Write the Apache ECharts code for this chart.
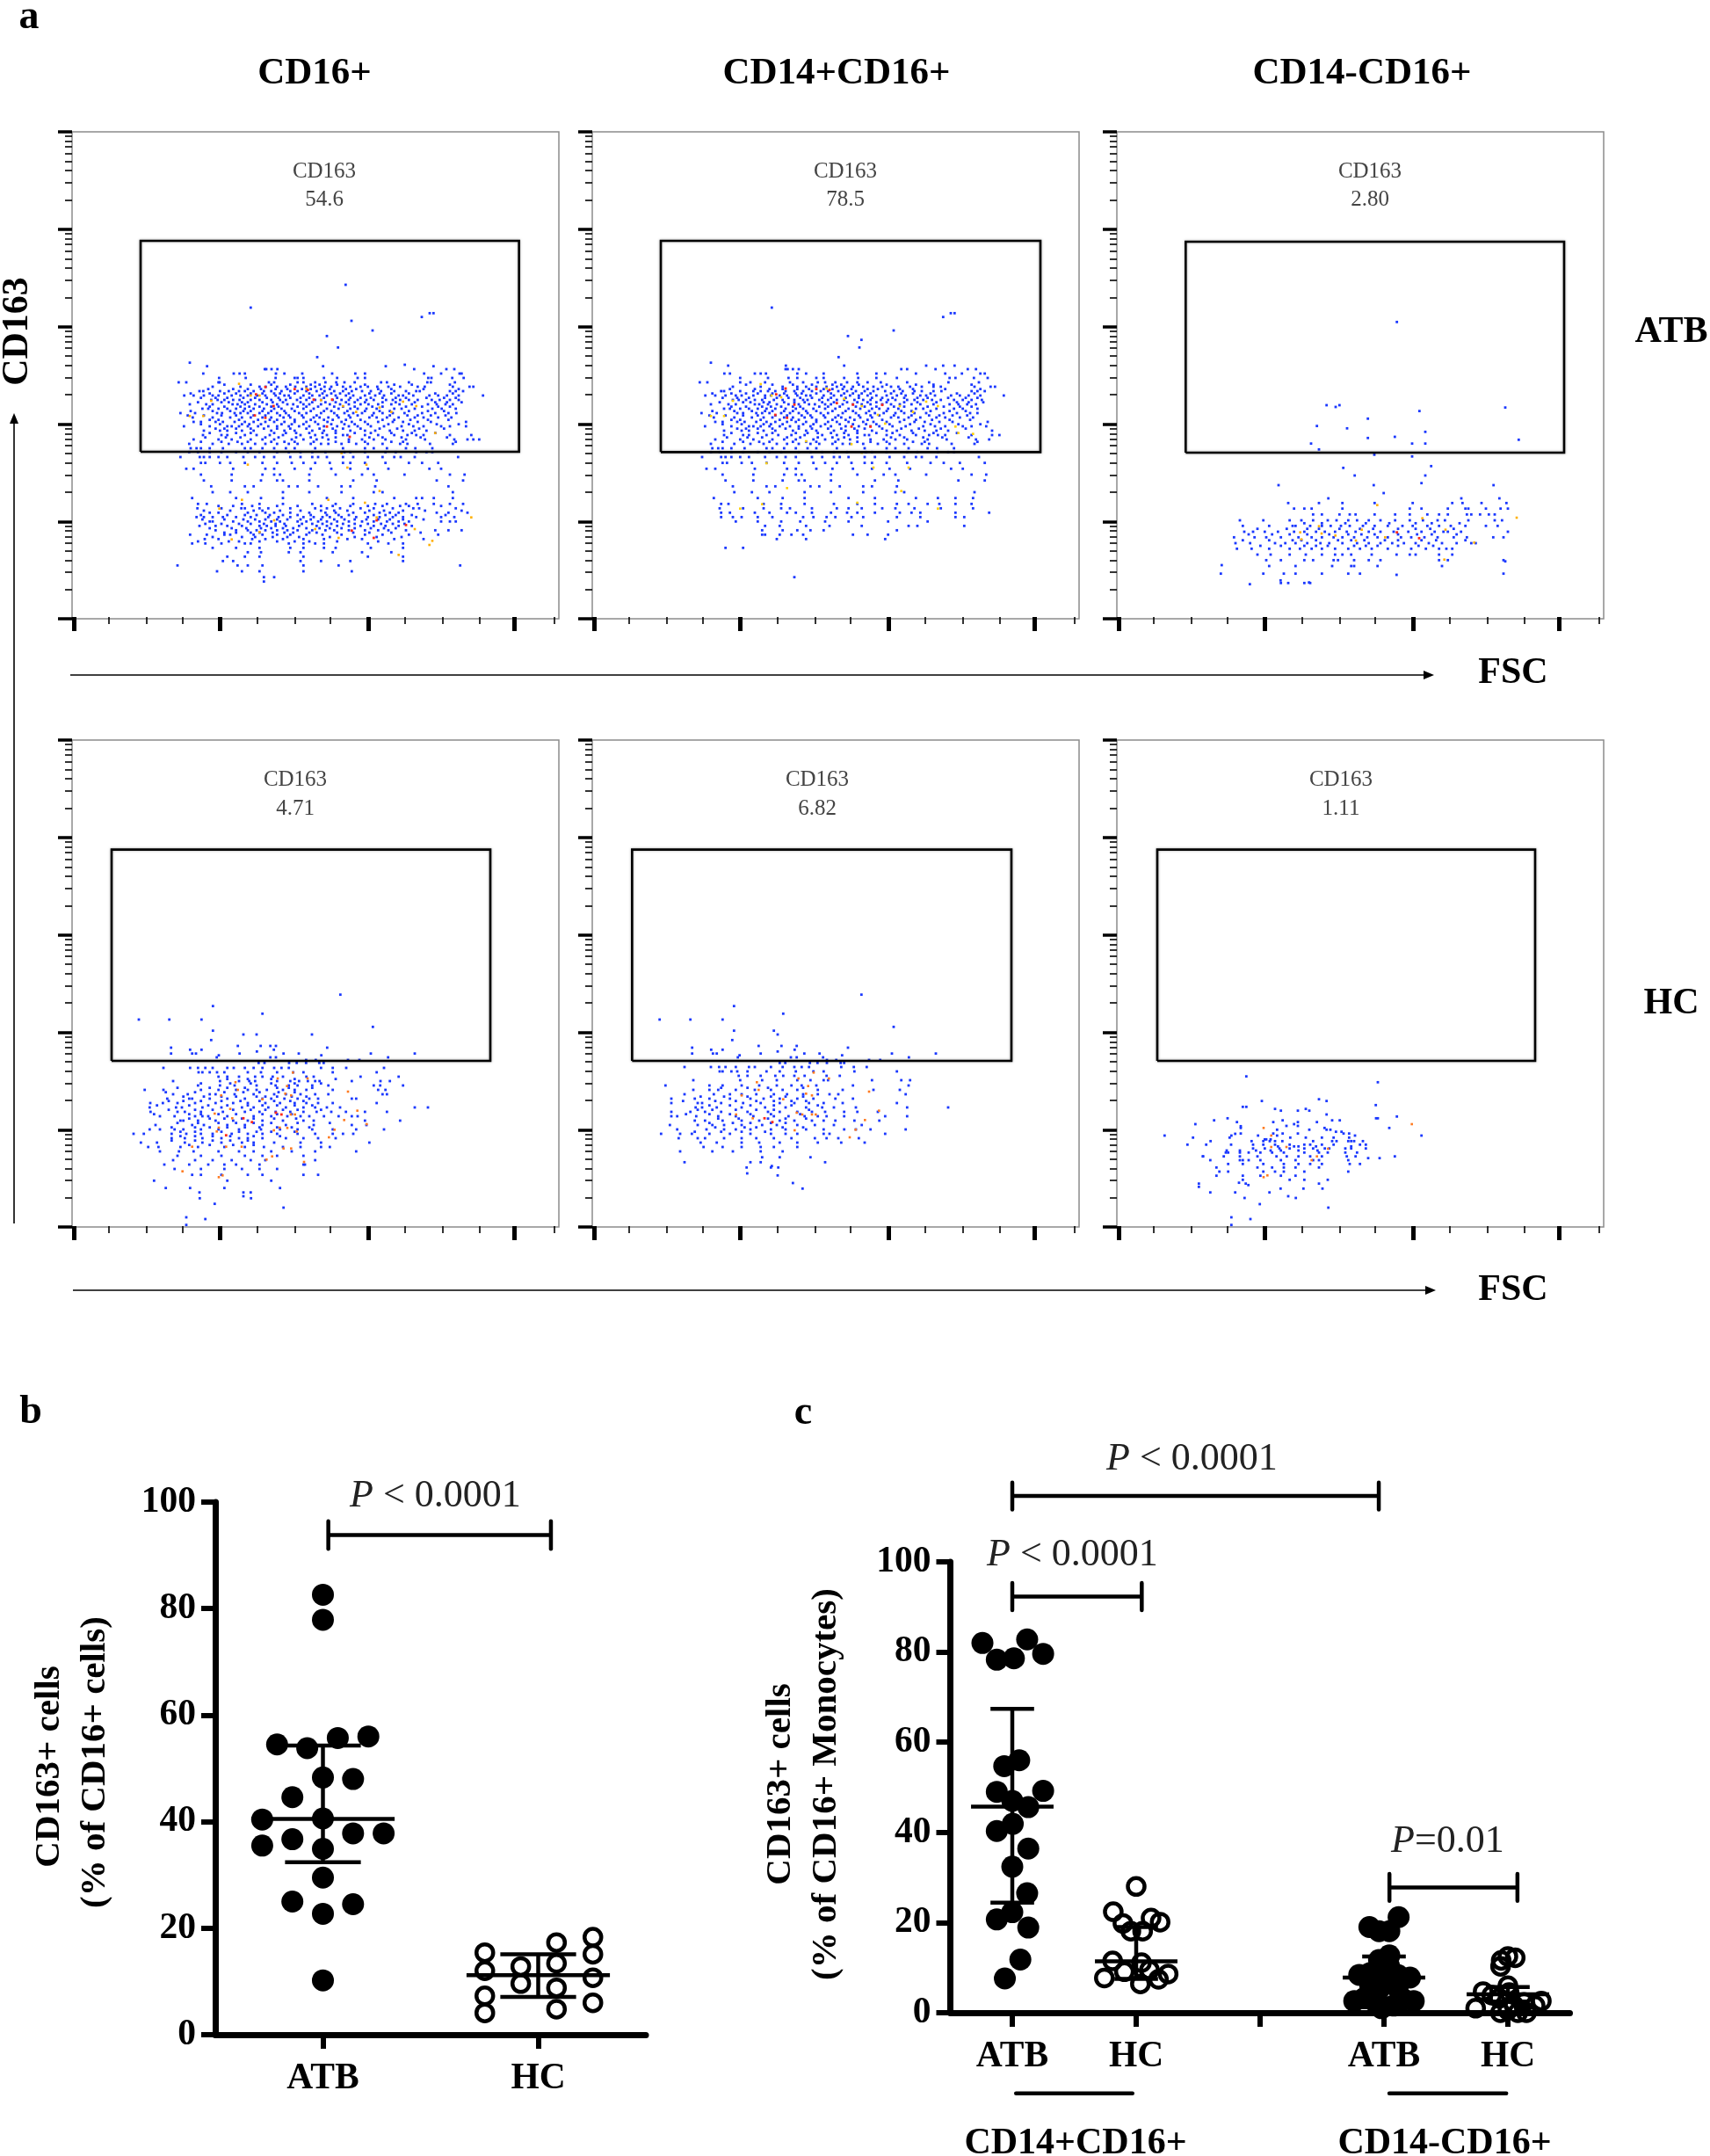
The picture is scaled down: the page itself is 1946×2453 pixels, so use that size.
<!DOCTYPE html>
<html><head><meta charset="utf-8">
<style>html,body{margin:0;padding:0;background:#fff}#c{width:1946px;height:2453px}</style>
<script src="https://cdn.jsdelivr.net/npm/echarts@6/dist/echarts.min.js"></script></head>
<body><div id="c"></div>
<script>
// FLOW PANELS. Axes are acquisition channels, 0-1662 on both sides.
// Clouds were read by eye from the picture. In dense regions they are estimates at lower density.
// Rows: first number = CD163 channel, the rest = FSC channels. Pairs: x,y,x,y...
const p1Rows=[[846,658,663,681,701,1168,1278,1305],[831,448,552,572,590,696,725,786,888,967,1000,1202,1260,1323,1330],[816,502,593,695,760,770,790,860,905,975,1000,1216,1227,1298,1337],[801,364,390,504,500,672,690,770,790,830,865,902,930,965,1055,1075,1150,1213,1225,1307],[786,480,575,640,661,700,730,762,800,830,862,885,925,950,985,1010,1042,1080,1120,1180,1204,1300,1357,1370],[771,435,448,505,535,570,590,620,655,680,715,745,770,800,835,862,895,925,955,990,1020,1055,1100,1140,1175,1187,1290,1310,1335],[756,383,415,450,480,500,545,575,600,632,660,695,725,740,790,820,845,870,900,935,960,1000,1035,1065,1115,1130,1165,1220,1250,1280,1320,1403],[741,475,497,520,550,572,610,640,680,710,730,768,800,830,850,890,920,945,975,1005,1030,1072,1095,1120,1150,1180,1228,1255,1290,1320],[726,402,458,480,548,565,590,625,665,700,735,755,790,810,850,880,915,945,985,1012,1045,1090,1118,1160,1215,1245,1275,1300],[711,445,465,500,530,560,590,620,655,690,715,750,790,825,870,910,950,975,1005,1040,1100,1125,1170,1230,1262,1310],[696,370,420,495,512,555,575,600,640,670,700,730,775,800,850,895,930,960,990,1030,1060,1095,1135,1195,1240,1285,1312],[681,412,480,540,580,610,650,680,722,745,790,825,845,875,910,950,1015,1040,1075,1115,1170,1200,1250,1295],[666,415,440,490,515,555,590,620,660,690,725,760,800,830,872,920,955,1000,1045,1095,1130,1180,1225,1345],[651,382,470,530,545,570,600,635,670,700,740,775,810,860,905,945,975,1020,1065,1125,1165,1200,1260,1290,1345],[636,450,505,530,580,620,680,725,760,820,860,900,950,1000,1035,1085,1130,1170,1210],[621,447,510,530,590,630,675,720,780,830,870,925,940,1000,1045,1100,1145,1175,1200,1290,1363],[606,415,500,545,610,650,690,750,790,835,875,945,990,1030,1070,1140,1205,1305,1350,1370,1390],[591,400,480,535,580,625,660,700,740,770,815,850,875,920,970,1010,1060,1120,1145,1222,1300],[576,405,425,440,470,515,590,610,650,690,730,760,830,925,1000,1030,1075,1140,1172,1230],[563,400,430,470,510,560,600,640,700,740,780,820,865,930,950,1000,1070,1105,1175,1210,1230],[546,370,436,450,470,500,530,585,625,655,690,745,780,820,840,870,925,960,1010,1060,1100,1122,1170,1318],[526,440,455,505,540,590,650,700,750,790,830,880,925,950,1000,1070,1150,1195,1250],[506,415,390,550,660,690,760,815,885,950,1010,1080,1220,1260],[486,440,545,650,690,710,810,900,990,1030,1135,1290,1340],[466,450,545,645,700,720,810,960,1040,1245,1335],[446,475,590,620,740,770,840,920,950,1035,1285],[426,480,540,600,720,810,920,1030,1060,1300],[406,410,560,645,720,870,960,1100,1175,1195,1235,1300],[386,430,460,580,640,720,820,900,960,1035,1075,1140,1180,1235,1290,1335],[371,428,510,578,590,640,670,745,830,870,915,985,1030,1095,1165,1185,1310],[356,470,500,600,660,690,745,810,865,900,960,1000,1050,1085,1115,1245,1285,1350],[341,425,450,480,515,560,610,670,705,745,790,825,855,880,920,970,1010,1050,1095,1130,1175,1260,1305],[326,470,480,550,600,640,680,710,770,800,840,870,905,945,990,1030,1075,1115,1150,1260,1290,1310],[311,435,490,530,580,640,665,695,730,775,835,870,905,945,985,1030,1070,1115,1160],[296,490,560,600,630,660,700,735,770,820,865,895,945,1000,1045,1080,1140,1240,1285,1330],[281,403,460,520,540,620,650,700,745,800,855,920,1000,1060,1150,1250],[266,453,500,615,660,720,790,860,940,990,1100,1200],[251,410,455,510,590,610,740,790,830,860,1010,1080,1130],[236,480,560,640,745,790,860,900,1020,1130],[221,600,645,740,780,890,990,1090],[206,530,590,640,790,1010,1130],[191,515,550,780,850,950,1130],[176,360,565,600,650,790,910,1325],[156,495,580,640,790,955],[136,655,690],[121,655],
[793,520,610,680,745,815,845,905,1000,1100,1160,1290],[778,465,550,600,645,695,735,785,815,850,880,935,970,1045,1090,1200,1320],[763,405,470,520,560,610,650,690,710,760,810,855,885,915,945,1015,1050,1090,1150,1240,1300],[748,440,490,530,585,625,665,705,745,780,810,860,905,950,985,1020,1060,1105,1140,1210,1270,1310],[733,430,510,535,580,600,650,685,720,780,820,865,900,935,965,1000,1060,1105,1170,1240,1280,1330],[718,470,520,575,605,640,680,705,770,800,840,895,925,965,1025,1060,1140,1195,1250,1290],[703,405,480,540,585,610,650,680,725,760,815,860,885,940,1000,1050,1085,1150,1215,1270],[688,395,450,510,560,620,660,710,740,785,835,905,945,975,1025,1085,1145,1180,1225,1275],[673,470,500,570,635,675,700,760,815,860,890,935,985,1060,1100,1155,1215,1285],[658,440,505,580,605,645,715,750,790,840,885,930,965,1010,1080,1150,1245,1320],[643,490,520,560,610,655,700,745,800,845,890,925,985,1050,1110,1185,1270],[628,470,560,610,690,730,765,810,855,900,965,1020,1090,1160,1240],[613,455,525,575,660,705,765,815,855,900,1015,1060,1125,1190,1280],[598,440,510,565,600,680,725,760,825,900,945,1000,1090,1130,1310],
[379,500,550,615,700,770,850,890,950,1010,1060,1120,1150,1260],[363,450,540,620,650,710,780,850,895,940,1015,1065,1130,1205,1330],[348,440,530,590,630,675,720,770,815,870,910,945,1030,1070,1105,1160,1275],[333,445,520,585,625,660,700,735,780,815,850,895,930,965,1005,1045,1085,1130,1200],[318,455,510,570,610,655,695,725,785,820,855,885,925,965,1010,1055,1095,1135],[303,470,545,595,645,680,720,755,800,845,880,920,965,1020,1065,1105],[288,520,560,610,640,685,725,755,810,835,905,960,1015,1090,1190],[273,480,580,625,685,735,775,880,965,1040,1125],[258,430,535,570,640,700,760,810,905,1045]];
const p1Sparse=[934,1134,610,1056,1194,1024,1221,1037,1234,1037,954,1011,1026,978,870,959,908,920,837,887,402,868,461,856,857,856,1071,856,1136,861,1234,856];
const p1Orange=[570,796,475,738,402,686,448,686,610,756,640,756,800,780,850,740,925,720,970,700,1050,715,1090,700,1130,735,1175,720,1240,628,920,560,600,520,940,510,1005,520,1050,430,580,400,503,370,875,400,1000,390,690,330,640,290,830,300,910,270,1230,260,1363,340,1115,212,1220,246,545,265,1170,300,1040,340];
const p1Red=[660,785,628,760,760,778,805,775,825,742,888,742,688,720,624,688,660,680,870,650,948,615,1040,330,955,295,1030,270,1140,314];
const p2Rows=[[858,464,661,860,1140,1198,1237],[846,660,667,685,705,1055,1075,1172,1282,1310],[831,451,470,555,575,593,700,730,790,905,970,1000,1105,1205,1262,1325,1340],[816,505,600,670,700,765,790,860,908,970,1040,1220,1240,1303,1350],[801,367,393,505,540,590,675,720,770,795,830,870,905,940,985,1075,1150,1216,1320],[786,480,575,650,700,730,765,800,835,860,890,925,960,990,1020,1045,1085,1125,1165,1190,1305,1360,1375],[771,440,450,505,550,575,600,625,660,690,720,750,780,805,840,870,900,930,960,1000,1030,1060,1100,1125,1165,1192,1295,1315,1340],[756,386,420,455,490,510,550,590,610,640,665,700,730,745,790,825,850,880,910,940,970,1005,1040,1070,1120,1140,1170,1225,1255,1285,1325,1405],[741,480,500,525,555,580,620,650,690,720,735,775,805,835,860,895,925,950,985,1010,1035,1075,1100,1130,1160,1190,1235,1265,1295,1330],[726,405,465,490,555,570,600,630,670,705,740,760,795,815,855,890,920,950,990,1020,1050,1090,1120,1165,1220,1250,1280,1310],[711,450,470,505,535,565,595,625,660,695,720,755,795,830,875,915,955,980,1010,1045,1105,1130,1175,1235,1265,1315],[696,373,425,495,515,560,580,605,645,675,705,735,780,805,855,900,935,965,995,1035,1065,1100,1140,1200,1245,1290,1315],[681,415,485,545,585,615,655,685,725,750,795,830,850,880,915,955,1020,1045,1080,1120,1175,1205,1255,1300],[666,420,445,495,520,560,595,625,665,695,730,765,805,835,875,925,960,1005,1050,1100,1135,1185,1230,1350],[651,385,475,535,550,575,605,640,675,705,745,780,815,865,910,950,980,1025,1070,1130,1170,1205,1265,1295,1345],[636,450,510,535,585,625,685,730,765,825,865,905,955,1005,1040,1090,1135,1175,1215,1365],[621,450,515,535,595,635,680,725,785,835,875,930,945,1005,1050,1105,1150,1180,1205,1295,1365,1390],[606,420,505,550,615,655,695,755,795,840,880,950,995,1035,1075,1145,1210,1310,1355],[591,405,485,540,585,630,665,705,745,775,820,855,880,925,975,1015,1065,1125,1150,1227,1305],[576,410,430,445,475,520,595,615,655,695,735,765,835,930,1005,1035,1080,1145,1177,1235],[563,405,435,475,515,565,605,645,705,745,785,825,870,935,955,1005,1075,1110,1180,1215,1235],[546,375,440,455,475,505,535,590,630,660,695,750,785,825,845,875,930,965,1015,1065,1105,1125,1175,1320],[526,445,460,510,545,595,655,705,755,795,835,885,930,955,1005,1075,1155,1200,1255,1340],[506,390,420,555,665,695,765,820,890,955,1015,1085,1225,1265],[486,445,550,655,695,715,815,905,995,1035,1140,1295,1345],[466,455,550,650,705,725,815,965,1045,1250,1340],[446,480,595,625,745,775,845,925,955,1040],[426,485,545,605,725,815,925,1035,1065,1305],[406,415,565,650,725,875,965,1105,1180,1240,1300],[386,440,465,585,645,725,825,905,965,1040,1080,1145,1185,1240,1295],[371,435,515,585,645,675,750,835,875,920,990,1035,1100,1190,1300],[356,440,470,555,605,665,695,750,815,870,905,965,1050,1090,1120,1240,1355],[341,440,480,510,565,615,720,755,800,830,885,925,1040,1120,1240,1270],[326,490,565,645,710,795,875,1010,1145],[311,590,640,730,810,920,1080,1110,1270],[296,580,650,700,745,790,1040],[281,580,590,640,680,720,890,940,1010],[266,630,730,1000],[236,455,515],[136,690],
[793,525,615,685,750,820,850,910,1005,1105,1165,1295],[778,470,555,605,650,700,740,790,820,855,885,940,975,1050,1095,1205,1325],[763,410,475,525,565,615,655,695,715,765,815,860,890,920,950,1020,1055,1095,1155,1245,1305],[748,445,495,535,590,630,670,710,750,785,815,865,910,955,990,1025,1065,1110,1145,1215,1275,1315],[733,435,515,540,585,605,655,690,725,785,825,870,905,940,970,1005,1065,1110,1175,1245,1285,1335],[718,475,525,580,610,645,685,710,775,805,845,900,930,970,1030,1065,1145,1200,1255,1295],[703,410,485,545,590,615,655,685,730,765,820,865,890,945,1005,1055,1090,1155,1220,1275],[688,400,455,515,565,625,665,715,745,790,840,910,950,980,1030,1090,1150,1185,1230,1280],[673,475,505,575,640,680,705,765,820,865,895,940,990,1065,1105,1160,1220,1290],[658,445,510,585,610,650,720,755,795,845,890,935,970,1015,1085,1155,1250,1325],[643,495,525,565,615,660,705,750,805,850,895,930,990,1055,1115,1190,1275],[628,475,565,615,695,735,770,815,860,905,970,1025,1095,1165,1245],[613,460,530,580,665,710,770,820,860,905,1020,1065,1130,1195,1285],[598,445,515,570,605,685,730,765,830,905,950,1005,1095,1135,1315]];
const p2Sparse=[613,1056,1198,1024,1224,1037,1237,1037,1029,978,873,959,919,946,912,920,841,887,405,868];
const p2Orange=[575,795,480,738,405,686,450,686,612,756,645,750,800,780,860,745,920,720,975,690,1050,720,1095,700,1140,735,1180,720,1250,628,920,561,595,525,960,510,1080,510,665,440,580,385,505,370,1055,430,905,390,1180,370,1240,650,1300,625,730,600,885,590,1000,660];
const p2Red=[660,780,628,760,765,778,810,775,835,730,890,725,690,725,625,690,665,680,885,650,950,650,990,724];
const p3Rows=[[389,585,690,770,880,1010,1145,1180,1245,1330],[370,605,640,665,770,1000,1040,1130,1190,1200,1260,1310,1335],[350,670,700,760,795,815,880,950,1000,1060,1100,1130,1195,1210,1240,1270,1290],[330,420,500,590,630,670,720,750,790,820,860,900,950,1000,1045,1095,1120,1200,1290,1315],[311,430,520,600,610,660,700,730,765,795,840,880,925,975,1010,1060,1100,1140,1190,1260,1300],[291,435,465,505,550,605,640,680,710,745,785,815,860,900,945,995,1040,1085,1115,1130,1175,1335],[272,400,470,510,560,620,665,700,740,770,810,855,890,925,970,1005,1050,1095,1150,1195,1285,1320],[252,405,455,540,575,610,650,695,725,770,820,860,900,940,980,1020,1065,1110,1160,1210,1225],[233,410,460,520,590,625,665,700,745,790,830,870,925,1005,1055,1100,1125,1145],[213,480,525,590,645,700,745,770,800,870,955,1000,1020,1100,1145],[194,510,560,640,670,740,755,810,860,900,1100,1130,1320],[174,520,610,735,800,810,890,1110],[148,355,500,570,610,700,790,830,1320],[116,560,585,640,660],
[320,640,700,780,850,930,1020,1075,1170],[301,480,580,650,690,760,830,875,960,1020,1070,1150],[282,450,530,590,650,725,790,835,880,960,1025,1075,1160],[262,430,520,600,630,680,755,800,845,915,960,1040,1090,1190],[243,490,560,640,680,720,810,850,890,960,1030,1080]];
const p3Sparse=[956,1007,716,723,747,717,760,723,1326,715,1033,703,857,677,683,652,786,644,1053,632,857,611,949,615,1372,605,663,592,1008,592,1053,592,690,572,879,554,1008,548,1073,515,773,509,812,483,1053,483,552,450,877,450,1040,457,1286,450,911,423,722,405,1176,405,1306,405,358,177,454,112,559,125,656,118,955,144,1326,190];
const p3Orange=[690,310,626,289,699,285,746,278,836,298,916,272,1043,337,889,382,1365,339,1220,254,1118,196,630,265,816,261,1122,298];
const p3Red=[956,289,1032,269];
const p4Rows=[[540,312,403,430,455,480,530,552,590,620,650,690,715,740,850,890,936,1065],[525,432,445,470,495,520,600,645,700,755,790,890,1040],[510,500,530,570,625,650,685,720,800,825,985,1115],[495,345,505,570,605,625,700,745,775,805,830,845,955,1053,1085],[480,430,505,555,630,695,740,770,820,875,1030,1052,1130],[465,248,312,440,500,560,600,630,665,720,760,800,890,1045,1070],[450,345,395,470,490,555,620,690,730,780,830,875,1060,1075],[435,325,400,410,470,530,590,650,680,725,770,810,840,955,970],[420,267,310,360,420,490,550,600,660,710,760,800,840,890,1040],[405,265,355,375,445,510,580,620,670,730,790,830,870,915,1170,1215],[390,268,360,385,440,515,590,640,695,745,790,835,885,935,1000,1075],[375,300,350,420,445,465,530,620,680,735,780,810,860,910,955,975],[360,370,380,430,490,550,600,650,720,790,825,1000,1120],[345,285,410,450,530,590,650,730,825,955,1005],[330,265,300,350,380,440,500,570,645,710,770,820,890,970,1065],[315,210,245,340,390,440,480,545,600,650,700,770,830,890,925,960],[300,340,385,445,510,570,600,650,730,790,840,900],[285,235,290,385,445,510,580,620,690,780,850,1015],[270,260,295,370,430,520,590,655,720,780,850,880],[255,300,365,415,500,570,620,680,750,830,970],[240,360,440,510,590,650,700,790],[225,345,420,480,545,610,660,830],[210,315,400,465,520,560,640,790,795],[195,350,440,520,580,640,700],[175,410,440,510,600,650,790,840],[155,280,530,680],[130,320,403,520,710],[115,435,585,610],
[502,530,600,680,760,900],[487,440,540,610,680,760,850],[472,360,470,530,590,700,740,820],[457,320,420,520,585,640,705,760],[442,380,450,510,560,630,660,700,750,800],[427,330,380,440,510,575,640,690,745,790],[412,290,400,465,530,600,650,700,760,820],[397,330,420,480,550,610,660,720,770,850],[382,280,400,440,500,560,650,700,750],[367,400,470,520,580,620,690,765],[352,360,430,500,560,620,680,770,880],[337,340,420,470,530,590,640,700,750,810],[322,370,420,510,570,630,680,760],[307,370,420,480,540,620,710],[292,340,420,480,540,600],[277,400,470,550,620]];
const p4Sparse=[916,790,481,751,650,725,228,705,332,705,442,705,1027,680,481,667,585,654,630,654,819,654,475,635,566,615,644,615,677,615,696,615,338,609,871,609,403,602,442,602,689,602,631,596,338,589,410,589,423,589,572,589,722,589,774,589,1020,589,1170,589,501,583,851,583,494,576,677,576,696,576,1079,576,799,567,832,567,942,567,981,567,637,557,657,557,741,557,767,557,799,557,844,557,859,557,390,30,455,24,390,4,722,63,487,76,436,95,585,102,611,95];
const p4Orange=[754,524,558,491,566,465,734,478,804,504,702,504,942,459,748,446,509,446,728,452,650,433,540,400,487,384,747,381,761,381,974,394,929,362,547,368,501,336,494,323,709,336,735,335,767,323,689,327,896,329,877,303,1006,348,410,271,526,271,579,271,722,265,748,265,683,238,792,219,377,187,501,167,514,173,664,227];
const p4Red=[585,368,614,355,715,381,526,310,696,387];
const p5Rows=[[543,315,405,433,455,490,535,555,610,650,690,715,740,850,893,937],[528,435,445,475,495,530,595,640,695,755,790,895,1040],[513,500,530,575,625,652,690,725,800,845],[498,345,505,580,630,700,745,790,805,955,1055,1085],[480,250,400,445,510,570,630,680,715,765,890,1080],[465,345,400,430,490,555,610,650,700,770,855,960,1050],[450,315,415,470,510,560,620,665,720,770,810,840,1070],[435,270,350,400,470,540,585,640,700,755,830,890],[420,270,360,375,440,515,575,640,690,740,790,855,1040],[405,353,375,425,510,590,660,730,785,825,900,1075,1215],[390,270,335,385,440,530,600,640,700,750,795,860,905,975],[375,270,290,355,430,490,550,620,670,725,770,800,860,1000,1075],[360,350,385,445,510,570,640,690,750,790,830,895,980],[345,265,360,410,450,510,580,630,700,760,825,920],[330,290,390,450,490,540,610,660,730,790,860,900,950,1070],[315,235,300,340,400,470,540,610,660,700,790,810,1000],[300,295,360,385,450,510,560,620,680,760,800,840,910],[285,370,425,510,570,640,700,770,850,930],[270,380,445,510,575,620,700],[255,300,410,480,575,650],[235,580,640,745],[218,315,540,575,795],[200,527,610,635],
[472,440,530,600,720],[442,370,450,530,610,660,720],[427,310,420,490,560,620,680,730],[412,400,470,540,620,680,770],[397,360,410,490,560,620,740],[382,320,400,470,540,610,710],[367,430,500,600,660,730],[352,400,480,540,610,660],[337,420,520,560,650,720],[322,350,440,510,590]];
const p5Sparse=[919,790,484,751,652,725,230,705,335,705,445,705,1029,680,484,667,620,667,633,654,478,635,568,615,646,615,698,615,341,609,873,609,406,602,445,602,691,602,633,596,341,589,412,589,425,589,575,589,724,589,776,589,1023,589,1173,589,503,583,853,583,497,576,678,576,698,576,788,576,1081,576,801,567,833,567,945,567,983,567,640,557,659,557,743,557,769,557,801,557,848,557,860,557,529,180,633,173,685,147,718,128,613,205];
const p5Orange=[756,524,704,504,808,504,562,491,568,465,737,478,945,459,510,446,730,452,750,446,652,433,979,394,717,381,750,381,763,381,491,381,698,387,931,362,548,368,691,327,899,329,879,303];
const p5Red=[588,368,615,355];
const p6Rows=[[302,260,385,592,645,700,740,793],[296,505,510,525],[290,320,460,500,522,540,565,670,735,750,790,800,810,840],[278,241,305,390,465,500,540,590,640,660,700,740,830,850],[272,550,605,620,680,800],[265,465,505,555,590,640,670,710,725,780,800,850],[258,375,420,475,525,560,620,685],[251,372,380,420,450,490,530,570,640,690,720,780,820],[238,294,365,420,480,545,580,620,660,700,785,815],[225,319,420,430,450,490,560,610,670,690,790],[212,380,430,500,570,620,660,700,795,830],[200,340,480,530,570,610,690],[186,350,380,500,540,570,640,790],[172,340,430,490,560,610],[158,430,590,640,720],[145,280,440,690]];
const p6Sparse=[442,511,891,491,690,433,495,427,716,427,884,413,430,407,442,407,540,400,560,394,618,394,645,400,657,394,716,381,956,374,885,368,891,368,378,368,332,361,566,361,735,361,761,361,410,355,534,355,618,355,683,355,268,348,605,348,579,342,618,342,423,341,423,335,709,335,930,335,547,329,657,329,716,329,729,329,748,322,767,322,404,315,423,316,534,316,566,316,618,316,774,316,793,316,163,309,482,309,547,309,1040,309,813,309,391,309,280,134,319,115,404,115,449,140,417,148,521,115,559,128,637,128,702,128,585,102,611,96,436,96,488,75,722,63,391,30,456,24,391,4,897,232,858,232,949,238,294,238];
const p6Orange=[501,335,527,309,527,270,579,270,721,264,683,238,665,225,1007,348,501,167,514,173];
const gateX=[[234,1526],[234,1530],[235,1527],[135,1428],[136,1431],[138,1428]];
const gateY=[[564,1284],[563,1284],[561,1281],[564,1285],[564,1285],[564,1285]];
const gateLabels=['54.6','78.5','2.80','4.71','6.82','1.11'];
const fscMajor=[7,505,1012,1511];
const fscMinor=[124,254,378,631,760,882,1135,1265,1390,1645];
const sscMajor=[0,332,665,997,1330,1662];
const sscMinorOffsets=[100,159,200,232,259,281,300,317];

// PANEL b: [x, value]
const bCategories=['ATB','HC'];
const bATB=[[.5,82.6],[.5,77.9],[.287,54.5],[.427,53.8],[.569,55.7],[.711,56],[.5,48.3],[.64,48],[.358,44.6],[.218,40.4],[.5,40.6],[.218,35.5],[.358,36.7],[.64,37.8],[.782,37.8],[.5,34.9],[.5,29.5],[.358,25],[.64,24.5],[.5,22.7],[.5,10.2]];
const bHC=[[1.252,15.4],[1.252,12],[1.252,7.3],[1.252,4.1],[1.419,12.8],[1.419,9.6],[1.585,17.3],[1.585,13.4],[1.585,8.8],[1.585,4.8],[1.754,18.3],[1.754,15.1],[1.754,10.7],[1.754,6]];
const bSummary=[[.5,40.5,54.3,32.4],[1.5,11.2,15.1,7.1]]; // x, mean, upper, lower

// PANEL c
const cCategories=['ATB','HC','','ATB','HC'];
const cATB1=[[.259,82],[.62,82.8],[.375,78.3],[.513,78.6],[.749,79.6],[.556,56],[.435,54.7],[.375,49],[.749,49.2],[.5,47],[.629,45.6],[.504,41.9],[.375,40.3],[.629,36.4],[.5,32.4],[.62,26.5],[.5,22.3],[.375,20.7],[.629,18.9],[.565,11.8],[.44,7.6]];
const cHC1=[[1.5,28],[1.315,22.4],[1.62,21],[1.693,20.1],[1.393,19.8],[1.457,18.1],[1.552,18.1],[1.31,11.5],[1.543,11.1],[1.405,9.1],[1.243,7.7],[1.607,9.5],[1.758,8.6],[1.68,7.4],[1.534,6.4]];
const cATB2=[[3.618,21.2],[3.382,19],[3.46,18.1],[3.543,18.1],[3.543,12.7],[3.46,11.7],[3.54,10.4],[3.3,8.4],[3.71,7.8],[3.39,8.8],[3.61,8.4],[3.46,8.4],[3.54,6.8],[3.39,5.8],[3.61,5.5],[3.46,5.2],[3.26,2.6],[3.74,2.6],[3.34,3.2],[3.66,2.9],[3.42,2.6],[3.58,1.6],[3.48,1]];
const cHC2=[[4.559,12.2],[4.5,12.5],[4.446,11.6],[4.441,10.3],[4.5,6],[4.3,4.7],[4.37,3.9],[4.51,4.5],[4.43,3.2],[4.24,1],[4.77,2.6],[4.72,1.6],[4.63,2.3],[4.55,1.6],[4.44,0],[4.65,0],[4.5,.6],[4.58,0]];
const cSummary=[[.5,45.7,67.4,24.4],[1.5,11.4,19,7.5],[3.5,7.8,12.5,3.1],[4.5,4.1,5.7,2.5]];
const cBrackets=[[.5,3.458,114.6],[.5,1.545,92.3],[3.544,4.577,27.8]];
const cGroupBars=[[.53,1.47,-17.9],[3.543,4.487,-17.9]];
const bBracket=[.525,1.559,93.8];

const SERIF='"Liberation Serif","Times New Roman",serif';
const BLUE='#1a38ff',ORANGE='#ffb000',RED='#ff2a1a',DEEP='#ff7a20';
const pairs=a=>{const o=[];for(let i=0;i<a.length;i+=2)o.push([a[i],a[i+1]]);return o;};
const rows=r=>{const o=[];r.forEach(l=>{for(let i=1;i<l.length;i++)o.push([l[i],l[0]]);});return o;};
const sscMinor=[];for(let d=0;d<5;d++)sscMinorOffsets.forEach(v=>sscMinor.push(sscMajor[d]+v));

const panels=[
 {l:82,t:150,dy:-6,b:p1Rows,s:p1Sparse,o:p1Orange,r:p1Red,oc:ORANGE},
 {l:674,t:150,dy:-6,b:p2Rows,s:p2Sparse,o:p2Orange,r:p2Red,oc:'#ffd000'},
 {l:1271,t:150,dy:-6,b:p3Rows,s:p3Sparse,o:p3Orange,r:p3Red,oc:ORANGE},
 {l:82,t:842,dy:-3,b:p4Rows,s:p4Sparse,o:p4Orange,r:p4Red,oc:DEEP},
 {l:674,t:842,dy:-3,b:p5Rows,s:p5Sparse,o:p5Orange,r:p5Red,oc:DEEP},
 {l:1271,t:842,dy:-3,b:p6Rows,s:p6Sparse,o:p6Orange,r:[],oc:DEEP}];

const grid=[],xAxis=[],yAxis=[],series=[];
function dots(xi,yi,data,color,size){series.push({type:'scatter',xAxisIndex:xi,yAxisIndex:yi,data,symbol:'rect',symbolSize:size,silent:true,itemStyle:{color,opacity:1},clip:true,animation:false});}
function path(xi,yi,data,width,cap,extra){series.push(Object.assign({type:'line',xAxisIndex:xi,yAxisIndex:yi,data,symbol:'none',silent:true,clip:false,animation:false,z:5,lineStyle:{color:'#000',width,cap:cap||'butt'}},extra||{}));}

panels.forEach((p,i)=>{
 grid.push({left:p.l,top:p.t,width:554,height:554,show:true,borderColor:'#8c8c8c',borderWidth:1.5,backgroundColor:'transparent'});
 const xi=xAxis.length,yi=yAxis.length;
 const xb={type:'value',gridIndex:i,min:0,max:1662,position:'bottom',splitLine:{show:false},axisLine:{show:false},axisLabel:{show:false}};
 const yb={type:'value',gridIndex:i,min:p.dy,max:1662+p.dy,position:'left',splitLine:{show:false},axisLine:{show:false},axisLabel:{show:false}};
 xAxis.push(Object.assign({},xb,{axisTick:{show:true,length:16,customValues:fscMajor,lineStyle:{color:'#000',width:5}}}));
 xAxis.push(Object.assign({},xb,{axisTick:{show:true,length:8,customValues:fscMinor,lineStyle:{color:'#000',width:1.6}}}));
 yAxis.push(Object.assign({},yb,{axisTick:{show:true,length:16,customValues:sscMajor.map(v=>v+p.dy),lineStyle:{color:'#000',width:3.5}}}));
 yAxis.push(Object.assign({},yb,{axisTick:{show:true,length:8,customValues:sscMinor.map(v=>v+p.dy),lineStyle:{color:'#000',width:1.6}}}));
 dots(xi,yi,rows(p.b).concat(pairs(p.s)),BLUE,2.8);
 dots(xi,yi,pairs(p.o),p.oc,2.6);
 if(p.r.length)dots(xi,yi,pairs(p.r),RED,2.8);
 const gx=gateX[i],gy=gateY[i];
 path(xi,yi,[[gx[0],gy[0]],[gx[1],gy[0]],[gx[1],gy[1]],[gx[0],gy[1]],[gx[0],gy[0]]],2.6,'square',{lineStyle:{color:'#000',width:2.6,join:'miter',shadowColor:'rgba(0,0,0,.35)',shadowBlur:3}});
});

// plot axes shared by b and c
const axStyle={lineStyle:{color:'#000',width:7}};
const lab={color:'#000',fontFamily:SERIF,fontWeight:'bold',fontSize:41.5};
function valueY(i){return {type:'value',gridIndex:i,min:0,max:100,interval:20,position:'left',splitLine:{show:false},axisLine:Object.assign({show:true},axStyle),axisTick:{show:true,length:16,lineStyle:{color:'#000',width:6}},axisLabel:Object.assign({margin:22,padding:[6,0,0,0]},lab)};}
function catX(i,max,cats){const pos=cats.map((c,k)=>k+.5);return {type:'value',gridIndex:i,min:0,max,position:'bottom',splitLine:{show:false},axisLine:Object.assign({show:true,onZero:false},axStyle),axisTick:{show:true,length:16,customValues:pos,lineStyle:{color:'#000',width:6}},axisLabel:Object.assign({margin:29,customValues:pos,formatter:v=>cats[Math.floor(v)]},lab)};}
const filled=(xi,yi,d)=>series.push({type:'scatter',xAxisIndex:xi,yAxisIndex:yi,data:d,symbol:'circle',symbolSize:25,silent:true,clip:false,animation:false,z:3,itemStyle:{color:'#000',opacity:1}});
const hollow=(xi,yi,d)=>series.push({type:'scatter',xAxisIndex:xi,yAxisIndex:yi,data:d,symbol:'circle',symbolSize:19,silent:true,clip:false,animation:false,z:3,itemStyle:{color:'rgba(0,0,0,0)',borderColor:'#000',borderWidth:4.5,opacity:1}});
function summary(xi,yi,rowsIn){rowsIn.forEach(s=>{const [x,m,u,l]=s;
 path(xi,yi,[[x-.333,m],[x+.333,m]],4.5);path(xi,yi,[[x-.176,u],[x+.176,u]],4.5);path(xi,yi,[[x-.176,l],[x+.176,l]],4.5);path(xi,yi,[[x,u],[x,l]],4.5);});}
function bracket(xi,yi,b,h){path(xi,yi,[[b[0],b[2]],[b[1],b[2]]],4.5);path(xi,yi,[[b[0],b[2]-h],[b[0],b[2]+h]],4.5,'round');path(xi,yi,[[b[1],b[2]-h],[b[1],b[2]+h]],4.5,'round');}

// b
grid.push({left:245,top:1709,width:490,height:606});
let xi=xAxis.length,yi=yAxis.length;
xAxis.push(catX(6,2,bCategories));yAxis.push(valueY(6));
filled(xi,yi,bATB);hollow(xi,yi,bHC);summary(xi,yi,bSummary);bracket(xi,yi,bBracket,2.6);
// c
grid.push({left:1081.5,top:1777,width:705,height:513});
xi=xAxis.length;yi=yAxis.length;
xAxis.push(catX(7,5,cCategories));yAxis.push(valueY(7));
filled(xi,yi,cATB1);hollow(xi,yi,cHC1);filled(xi,yi,cATB2);hollow(xi,yi,cHC2);summary(xi,yi,cSummary);
cBrackets.forEach(b=>bracket(xi,yi,b,3));
cGroupBars.forEach(b=>path(xi,yi,[[b[0],b[2]],[b[1],b[2]]],4.5,'round'));

// text and arrows
function T(text,x,y,size,o){o=o||{};return {type:'text',x,y,rotation:o.rot||0,z:20,silent:true,style:Object.assign({text,fontFamily:SERIF,fontSize:size,fontWeight:o.w||'bold',fill:o.fill||'#000',align:o.align||'center',verticalAlign:'middle'},o.style||{})};}
function P(rest,x,y){return T('{i|P}'+rest,x,y,44,{w:'normal',align:'left',fill:'#222',style:{rich:{i:{fontFamily:SERIF,fontSize:44,fontStyle:'italic',fill:'#222'}}}});}
function arrow(x0,y0,x1,y1){const dx=Math.sign(x1-x0),dy=Math.sign(y1-y0);return [
 {type:'line',z:20,silent:true,shape:{x1:x0,y1:y0,x2:x1,y2:y1},style:{stroke:'#000',lineWidth:1.6}},
 {type:'polygon',z:20,silent:true,shape:{points:[[x1+dx*4,y1+dy*4],[x1-dx*8+dy*5,y1-dy*8+dx*5],[x1-dx*8-dy*5,y1-dy*8-dx*5]]},style:{fill:'#000'}}];}
const gate=[[369,195,227],[962,195,227],[1559,195,227],[336,887,920],[930,887,920],[1526,887,920]];
const graphic=[
 T('a',33,20,46),T('b',35,1607,46),T('c',914,1608,46),
 T('CD16+',358,84,43),T('CD14+CD16+',952,84,43),T('CD14-CD16+',1550,84,43),
 T('CD163',20,377,42,{rot:Math.PI/2}),
 T('FSC',1722,766,42),T('FSC',1722,1468,42),T('ATB',1902,378,42),T('HC',1902,1142,42),
 T('CD163+ cells',56,2010,41,{rot:Math.PI/2}),T('(% of CD16+ cells)',108,2005,41,{rot:Math.PI/2}),
 T('CD163+ cells',888,2030,41,{rot:Math.PI/2}),T('(% of CD16+ Monocytes)',940,2030,41,{rot:Math.PI/2}),
 T('CD14+CD16+',1224,2439,42),T('CD14-CD16+',1644,2439,42),
 P(' < 0.0001',398,1702),P(' < 0.0001',1259,1660),P(' < 0.0001',1123,1769),P('=0.01',1583,2095),
 ...arrow(16,1392,16,474),...arrow(80,768,1628,768),...arrow(83,1468,1630,1468)
];
gate.forEach((g,i)=>{graphic.push(T('CD163',g[0],g[1],25,{w:'normal',fill:'#444'}));graphic.push(T(gateLabels[i],g[0],g[2],25,{w:'normal',fill:'#444'}));});

const chart=echarts.init(document.getElementById('c'),null,{renderer:'canvas'});
chart.setOption({animation:false,backgroundColor:'#fff',grid,xAxis,yAxis,series,graphic});
</script></body></html>
